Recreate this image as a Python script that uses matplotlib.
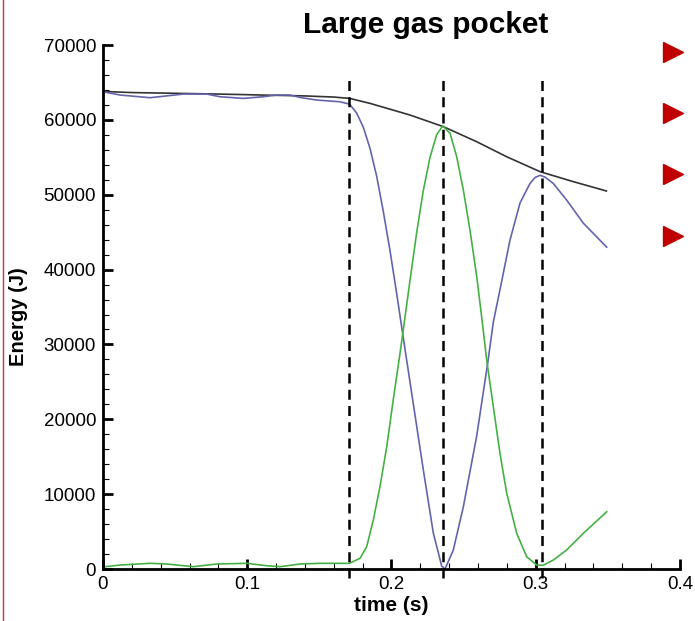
import matplotlib.pyplot as plt
from matplotlib.lines import Line2D
from matplotlib.ticker import MultipleLocator

# energy curves, time in s, energy in J
t_total = [0.0, 0.02, 0.05, 0.08, 0.11, 0.14, 0.16, 0.171, 0.185, 0.2128,
           0.236, 0.259, 0.2798, 0.303, 0.326, 0.349]
e_total = [63800, 63650, 63550, 63450, 63320, 63200, 63050, 62870, 62210, 60650,
           59090, 57090, 55080, 53080, 51750, 50500]

t_blue = [0.0, 0.0118, 0.0326, 0.0557, 0.0719, 0.0811, 0.0973, 0.1111, 0.1204, 0.1296,
          0.1366, 0.1481, 0.1643, 0.171, 0.1759, 0.1805, 0.1851, 0.1897, 0.1943, 0.199,
          0.2036, 0.2077, 0.2151, 0.2221, 0.229, 0.2348, 0.2371, 0.2428, 0.2498, 0.259,
          0.2667, 0.2706, 0.2752, 0.2821, 0.2891, 0.296, 0.2995, 0.303, 0.3065, 0.3122,
          0.3214, 0.333, 0.3492]
e_blue = [63760, 63320, 62960, 63450, 63450, 63090, 62870, 63090, 63320, 63320,
          63000, 62650, 62420, 62100, 60900, 59000, 56200, 52500, 47800, 42500,
          36800, 31500, 22100, 13200, 4800, 400, 0, 2500, 8300, 17700,
          27500, 33000, 37300, 43900, 48900, 51500, 52300, 52600, 52350, 51500,
          49300, 46200, 43000]

t_green = [0.0014, 0.0118, 0.0326, 0.0442, 0.0626, 0.0788, 0.0996, 0.1135, 0.1227, 0.1366,
           0.1504, 0.1708, 0.1782, 0.1828, 0.1874, 0.192, 0.1967, 0.2012, 0.2059, 0.2082,
           0.2128, 0.2175, 0.222, 0.2267, 0.2313, 0.2355, 0.2406, 0.2452, 0.2498, 0.2544,
           0.2591, 0.2625, 0.266, 0.2706, 0.2752, 0.2799, 0.2868, 0.2937, 0.3007, 0.3052,
           0.3122, 0.3214, 0.333, 0.3492]
e_green = [310, 530, 760, 670, 310, 670, 760, 440, 310, 670,
           760, 760, 1430, 2980, 6550, 10990, 16340, 22580, 28810, 32000,
           38500, 45000, 50500, 55000, 58000, 59200, 58200, 55080, 50630, 45290,
           39050, 33700, 27920, 21680, 15450, 10110, 4770, 1640, 530, 500,
           1200, 2540, 4770, 7650]

# instants marked with dashed lines
phase_times = [0.1705, 0.2357, 0.3043]

plt.rcParams['font.family'] = ['Liberation Sans', 'DejaVu Sans']

fig = plt.figure(figsize=(6.95, 6.21), dpi=100)
ax = fig.add_axes([0.1482, 0.0837, 0.8302, 0.8438])

ax.plot(t_total, e_total, color='#333333', lw=1.2)
ax.plot(t_blue, e_blue, color='#6464ac', lw=1.2)
ax.plot(t_green, e_green, color='#45b045', lw=1.2)

for tp in phase_times:
    ax.plot([tp, tp], [-1200, 65300], color='black', lw=1.8,
            linestyle=(0, (4, 2.5)), clip_on=False)

ax.set_xlim(0, 0.4)
ax.set_ylim(0, 70000)
ax.xaxis.set_major_locator(MultipleLocator(0.1))
ax.xaxis.set_minor_locator(MultipleLocator(0.02))
ax.yaxis.set_major_locator(MultipleLocator(10000))
ax.yaxis.set_minor_locator(MultipleLocator(2000))
ax.xaxis.set_major_formatter(plt.FuncFormatter(lambda v, p: '0' if v == 0 else f'{v:g}'))

for side in ['top', 'right']:
    ax.spines[side].set_visible(False)
for side in ['left', 'bottom']:
    ax.spines[side].set_linewidth(2)

ax.tick_params(which='major', direction='in', length=7, width=2, labelsize=13.5, pad=5)
ax.tick_params(which='minor', direction='in', length=4, width=0.8)

ax.set_xlabel('time (s)', fontsize=15, fontweight='bold', labelpad=2)
ax.set_ylabel('Energy (J)', fontsize=14.5, fontweight='bold')
ax.yaxis.set_label_coords(-0.13, 0.481)

fig.text(426 / 695, 1 - 25 / 621, 'Large gas pocket', ha='center', va='center',
         fontsize=21.5, fontweight='bold')

# slide decorations: red edge line and bullet triangles
fig.add_artist(Line2D([3 / 695, 3 / 695], [0, 1], color='#d03030', lw=1))
for yb in [52, 113, 174, 236]:
    fig.add_artist(Line2D([673 / 695], [1 - yb / 621], marker='>', markersize=14,
                          color='#c00000', linestyle='none'))

fig.savefig('out.png', dpi=100)
